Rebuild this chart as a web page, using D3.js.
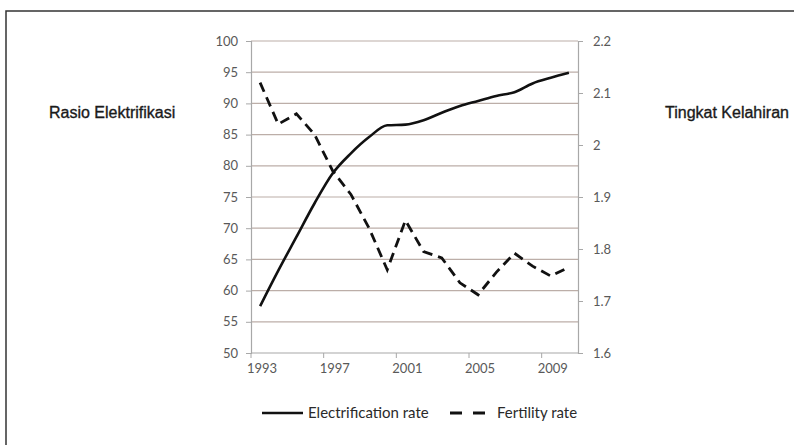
<!DOCTYPE html>
<html>
<head>
<meta charset="utf-8">
<script src="https://cdn.jsdelivr.net/npm/d3@7"></script>
<style>
    body { margin: 0; background: #fff; }
    svg { display: block; }
</style>
</head>
<body>
<div id="chartContainer"></div>
<script>
// data
var years = [1993, 1994, 1995, 1996, 1997, 1998, 1999, 2000, 2001, 2002, 2003, 2004, 2005, 2006, 2007, 2008, 2009, 2010];
var electrification = [57.5, 63.2, 68.6, 74.0, 78.8, 82.0, 84.6, 86.5, 86.6, 87.3, 88.5, 89.6, 90.4, 91.2, 91.8, 93.2, 94.1, 94.9];
var fertility = [2.12, 2.04, 2.06, 2.02, 1.95, 1.905, 1.84, 1.76, 1.855, 1.795, 1.783, 1.735, 1.712, 1.755, 1.792, 1.767, 1.748, 1.765];
var leftTicks = [50, 55, 60, 65, 70, 75, 80, 85, 90, 95, 100];
var rightTicks = [1.6, 1.7, 1.8, 1.9, 2, 2.1, 2.2];
var xLabelYears = [1993, 1997, 2001, 2005, 2009];

var width = 794, height = 445;
var plot = { left: 251, right: 578, top: 41, bottom: 353 };

var tickFont = "Lato, 'Open Sans', sans-serif";
var tickColor = "#595959";
var gridColor = "#bcaea8";
var axisColor = "#a8a8a8";

const svg = d3.select("#chartContainer")
    .append("svg")
    .attr("width", width)
    .attr("height", height);

// outer frame (runs off the right and bottom edges)
svg.append("rect")
    .attr("x", 6)
    .attr("y", 11)
    .attr("width", 900)
    .attr("height", 500)
    .attr("fill", "none")
    .attr("stroke", "#333")
    .attr("stroke-width", 1.5);

const x = d3.scaleBand()
    .domain(years)
    .range([plot.left, plot.right])
    .paddingInner(0)
    .paddingOuter(0);

const yL = d3.scaleLinear()
    .domain([50, 100])
    .range([plot.bottom, plot.top]);

const yR = d3.scaleLinear()
    .domain([1.6, 2.2])
    .range([plot.bottom, plot.top]);

function cx(yr) { return x(yr) + x.bandwidth() / 2; }

// gridlines
svg.append("g")
    .selectAll("line")
    .data(leftTicks.filter(function (d) { return d > 50; }))
    .join("line")
    .attr("x1", plot.left)
    .attr("x2", plot.right)
    .attr("y1", function (d) { return yL(d); })
    .attr("y2", function (d) { return yL(d); })
    .attr("stroke", gridColor)
    .attr("stroke-width", 1.2);

// left axis
const gL = svg.append("g")
    .attr("transform", `translate(${plot.left}, 0)`)
    .call(d3.axisLeft(yL).tickValues(leftTicks).tickSize(5).tickPadding(8).tickFormat(d3.format("d")));

// right axis
const gR = svg.append("g")
    .attr("transform", `translate(${plot.right}, 0)`)
    .call(d3.axisRight(yR).tickValues(rightTicks).tickSize(5).tickPadding(10).tickFormat(function (d) { return String(+d.toFixed(1)); }));

[gL, gR].forEach(function (g) {
    g.select(".domain").attr("stroke", axisColor).attr("stroke-width", 1.2);
    g.selectAll(".tick line").attr("stroke", axisColor);
    g.selectAll("text")
        .attr("fill", tickColor)
        .style("font-family", tickFont)
        .style("font-size", "13px");
});

// bottom axis: line, ticks at every 4th category boundary, labels centred
svg.append("line")
    .attr("x1", plot.left)
    .attr("x2", plot.right)
    .attr("y1", plot.bottom)
    .attr("y2", plot.bottom)
    .attr("stroke", axisColor)
    .attr("stroke-width", 1.2);

svg.append("g")
    .selectAll("line")
    .data(xLabelYears.map(function (d, i) { return i; }))
    .join("line")
    .attr("x1", function (i) { return plot.left + x.step() * 4 * i; })
    .attr("x2", function (i) { return plot.left + x.step() * 4 * i; })
    .attr("y1", plot.bottom)
    .attr("y2", plot.bottom + 5)
    .attr("stroke", axisColor);

svg.append("g")
    .selectAll("text")
    .data(xLabelYears)
    .join("text")
    .attr("x", function (d) { return cx(d) + 2; })
    .attr("y", plot.bottom + 20)
    .attr("text-anchor", "middle")
    .attr("fill", tickColor)
    .style("font-family", tickFont)
    .style("font-size", "13px")
    .text(function (d) { return d; });

// electrification line (solid)
let elecLine = d3.line()
    .x(function (d, i) { return cx(years[i]); })
    .y(function (d) { return yL(d); })
    .curve(d3.curveMonotoneX);

svg.append("path")
    .datum(electrification)
    .attr("fill", "none")
    .attr("stroke", "#111")
    .attr("stroke-width", 2.6)
    .attr("d", elecLine);

// fertility line (dashed)
let fertLine = d3.line()
    .x(function (d, i) { return cx(years[i]); })
    .y(function (d) { return yR(d); });

svg.append("path")
    .datum(fertility)
    .attr("fill", "none")
    .attr("stroke", "#111")
    .attr("stroke-width", 2.8)
    .attr("stroke-dasharray", "10,6")
    .attr("d", fertLine);

// axis titles
var titleFont = "'Liberation Sans', Arial, sans-serif";
svg.append("text")
    .attr("x", 49)
    .attr("y", 118)
    .attr("fill", "#1a1a1a")
    .attr("stroke", "#1a1a1a")
    .attr("stroke-width", 0.35)
    .style("font-family", titleFont)
    .style("font-size", "16px")
    .text("Rasio Elektrifikasi");

svg.append("text")
    .attr("x", 665)
    .attr("y", 118)
    .attr("fill", "#1a1a1a")
    .attr("stroke", "#1a1a1a")
    .attr("stroke-width", 0.35)
    .style("font-family", titleFont)
    .style("font-size", "16px")
    .text("Tingkat Kelahiran");

// legend
var legY = 413;
svg.append("line")
    .attr("x1", 262).attr("x2", 303)
    .attr("y1", legY).attr("y2", legY)
    .attr("stroke", "#111").attr("stroke-width", 2.6);
svg.append("text")
    .attr("x", 308).attr("y", legY + 5)
    .attr("fill", "#2a2a2a")
    .style("font-family", tickFont)
    .style("font-size", "15px")
    .text("Electrification rate");

svg.append("line")
    .attr("x1", 450).attr("x2", 487)
    .attr("y1", legY).attr("y2", legY)
    .attr("stroke", "#111").attr("stroke-width", 2.8)
    .attr("stroke-dasharray", "12,11");
svg.append("text")
    .attr("x", 497).attr("y", legY + 5)
    .attr("fill", "#2a2a2a")
    .style("font-family", tickFont)
    .style("font-size", "15px")
    .text("Fertility rate");
</script>
</body>
</html>
